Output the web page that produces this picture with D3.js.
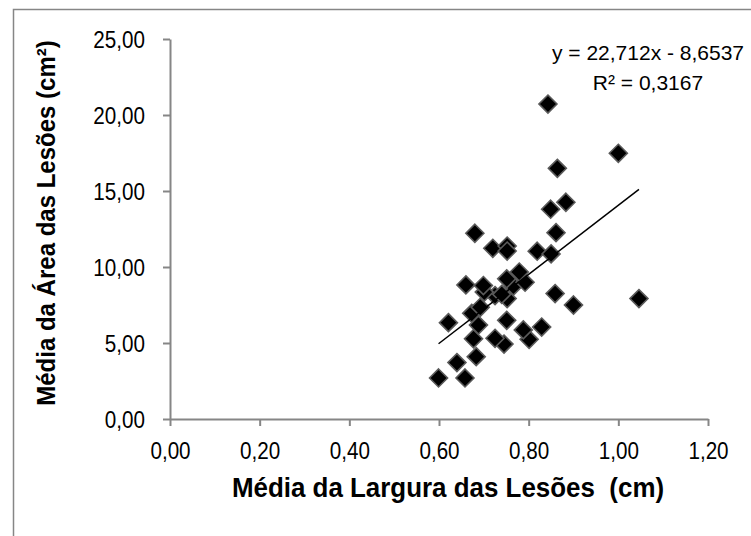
<!DOCTYPE html>
<html>
<head>
<meta charset="utf-8">
<script src="https://cdn.jsdelivr.net/npm/d3@7"></script>
<style>
  body { margin: 0; background: #fff; }
  svg { display: block; }
</style>
</head>
<body>
<svg id="chart" width="751" height="536"></svg>
<script>
// largura média (cm) e área média (cm²) das lesões
const larguraValues = [
  0.599, 0.658, 0.640, 0.683, 0.745, 0.677, 0.725, 0.801, 0.621, 0.688,
  0.751, 0.788, 0.829, 0.673, 0.692, 0.752, 0.725, 0.740, 0.701, 0.660,
  0.699, 0.766, 0.792, 0.751, 0.779, 0.859, 0.900, 1.046, 0.680, 0.720,
  0.752, 0.752, 0.819, 0.850, 0.861, 0.849, 0.883, 0.864, 0.843, 1.000
];
const areaValues = [
  2.70, 2.70, 3.71, 4.10, 4.93, 5.28, 5.31, 5.24, 6.34, 6.18,
  6.49, 5.86, 6.05, 6.95, 7.35, 7.92, 8.12, 8.20, 8.35, 8.82,
  8.78, 8.75, 9.00, 9.22, 9.67, 8.25, 7.50, 7.92, 12.22, 11.23,
  11.38, 11.05, 11.04, 10.86, 12.26, 13.80, 14.26, 16.49, 20.72, 17.48
];
const xTicks = [0, 0.2, 0.4, 0.6, 0.8, 1.0, 1.2];
const yTicks = [0, 5, 10, 15, 20, 25];
const trendSlope = 22.712;
const trendIntercept = -8.6537;
const equationLines = ['y = 22,712x - 8,6537', 'R² = 0,3167'];
const xTitle = 'Média da Largura das Lesões  (cm)';
const yTitle = 'Média da Área das Lesões (cm²)';

const svg = d3.select('#chart');
const axisColor = '#868686';
const fontFamily = '"Liberation Sans", Arial, sans-serif';
const fmt = d => d3.format('.2f')(d).replace('.', ',');

// texto mais estreito (parecido com Calibri)
const condense = (sel, factor) => {
  sel.each(function () {
    const w = this.getComputedTextLength();
    d3.select(this)
      .attr('textLength', w * factor)
      .attr('lengthAdjust', 'spacingAndGlyphs');
  });
};

// borda externa do gráfico
svg.append('rect')
  .attr('x', 13.5).attr('y', 9.5)
  .attr('width', 800).attr('height', 600)
  .attr('fill', 'none')
  .attr('stroke', axisColor)
  .attr('stroke-width', 1.5);

const plotLeft = 170, plotRight = 708, plotTop = 39, plotBottom = 419;
const scaleX = d3.scaleLinear().domain([0, 1.2]).range([plotLeft, plotRight]);
const scaleY = d3.scaleLinear().domain([0, 25]).range([plotBottom, plotTop]);

const xAxis = svg.append('g')
  .attr('transform', `translate(0,${plotBottom})`)
  .call(d3.axisBottom(scaleX).tickValues(xTicks).tickFormat(fmt).tickSizeInner(7).tickSizeOuter(0).tickPadding(13));
const yAxis = svg.append('g')
  .attr('transform', `translate(${plotLeft},0)`)
  .call(d3.axisLeft(scaleY).tickValues(yTicks).tickFormat(fmt).tickSizeInner(7).tickSizeOuter(0).tickPadding(18));

[xAxis, yAxis].forEach(ax => {
  ax.select('.domain').attr('stroke', axisColor).attr('stroke-width', 2);
  ax.selectAll('.tick line').attr('stroke', axisColor).attr('stroke-width', 2);
  ax.selectAll('.tick text')
    .attr('fill', '#000')
    .style('font-family', fontFamily)
    .style('font-size', '24px')
    .call(condense, 0.86);
});
xAxis.selectAll('.tick text').attr('dy', '0.85em');
yAxis.selectAll('.tick text').attr('dy', '0.36em');

// pontos
const data = larguraValues.map((x, i) => ({ x, y: areaValues[i] }));
const r = 9;
svg.append('g')
  .selectAll('path.point')
  .data(data)
  .enter().append('path')
  .attr('class', 'point')
  .attr('d', d => {
    const cx = scaleX(d.x), cy = scaleY(d.y);
    return `M${cx},${cy - r}L${cx + r},${cy}L${cx},${cy + r}L${cx - r},${cy}Z`;
  })
  .attr('fill', '#000')
  .attr('stroke', '#5a5a5a')
  .attr('stroke-width', 1.6);

// linha de tendência
const xMin = d3.min(larguraValues), xMax = d3.max(larguraValues);
svg.append('line')
  .attr('x1', scaleX(xMin)).attr('y1', scaleY(trendSlope * xMin + trendIntercept))
  .attr('x2', scaleX(xMax)).attr('y2', scaleY(trendSlope * xMax + trendIntercept))
  .attr('stroke', '#000')
  .attr('stroke-width', 1.5);

// equação
svg.append('g')
  .selectAll('text')
  .data(equationLines)
  .enter().append('text')
  .attr('x', 648)
  .attr('y', (d, i) => 60 + i * 30)
  .attr('text-anchor', 'middle')
  .style('font-family', fontFamily)
  .style('font-size', '21px')
  .text(d => d);

// títulos dos eixos
svg.append('text')
  .attr('x', 448).attr('y', 497)
  .attr('text-anchor', 'middle')
  .style('font-family', fontFamily)
  .style('font-weight', 'bold')
  .style('font-size', '27px')
  .style('white-space', 'pre')
  .text(xTitle)
  .call(condense, 0.96);

svg.append('text')
  .attr('transform', 'translate(55,223) rotate(-90)')
  .attr('text-anchor', 'middle')
  .style('font-family', fontFamily)
  .style('font-weight', 'bold')
  .style('font-size', '25px')
  .text(yTitle)
  .call(condense, 0.96);
</script>
</body>
</html>
